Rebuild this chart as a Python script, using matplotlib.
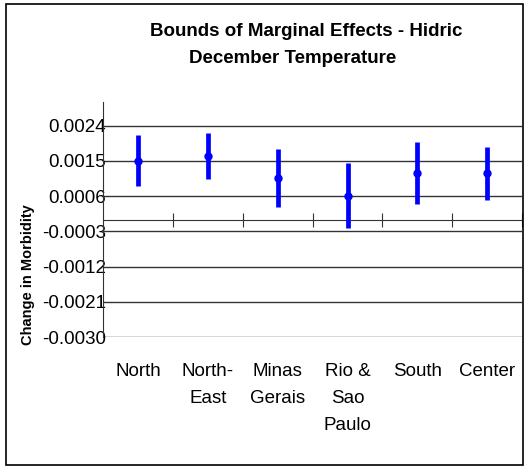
import matplotlib
matplotlib.use("Agg")
import matplotlib.pyplot as plt
from matplotlib import font_manager
from matplotlib.patches import Rectangle

regions = ["North", "North-\nEast", "Minas\nGerais", "Rio &\nSao\nPaulo", "South", "Center"]
effect = [0.00149, 0.00162, 0.00107, 0.00061, 0.00118, 0.00118]
upper = [0.00215, 0.00222, 0.00181, 0.00144, 0.00198, 0.00186]
lower = [0.00085, 0.00103, 0.00033, -0.00021, 0.00039, 0.00049]
yticks = [-0.0030, -0.0021, -0.0012, -0.0003, 0.0006, 0.0015, 0.0024]
ytick_labels = ["-0.0030", "-0.0021", "-0.0012", "-0.0003", "0.0006", "0.0015", "0.0024"]

names = {f.name for f in font_manager.fontManager.ttflist}
narrow = "Liberation Sans Narrow" in names
plt.rcParams['font.family'] = ['Liberation Sans', 'DejaVu Sans']

fig = plt.figure(figsize=(5.27, 4.66), dpi=100)
fig.patches.append(Rectangle((0.0114, 0.002), 0.9805, 0.989, transform=fig.transFigure,
                             fill=False, edgecolor='black', linewidth=1.2))

ax = fig.add_axes([0.196, 0.2768, 0.7945, 0.5042])
x = list(range(len(regions)))

ax.vlines(x, lower, upper, color='#0000ff', linewidth=3.4, zorder=3)
ax.plot(x, effect, 'o', color='#0000ff', markersize=5, zorder=4)

ax.set_xlim(-0.5, 5.5)
ax.set_ylim(-0.003, 0.003)
ax.set_yticks(yticks, ytick_labels)
ax.tick_params(axis='y', length=0, pad=-2, labelsize=13.5)
ax.grid(axis='y', color='#333333', linewidth=1)
ax.set_axisbelow(True)

for s in ['top', 'right']:
    ax.spines[s].set_visible(False)
ax.spines['left'].set_color('#333333')
ax.spines['bottom'].set_position(('data', 0))
ax.spines['bottom'].set_color('#333333')
ax.set_xticks([0.5, 1.5, 2.5, 3.5, 4.5, 5.5], [])
ax.tick_params(axis='x', direction='inout', length=10, color='#333333')

sec = ax.secondary_xaxis(0.0)
sec.set_xticks(x, regions)
sec.tick_params(length=0, pad=19, labelsize=13.5)
for lbl in sec.get_xticklabels():
    lbl.set_linespacing(1.75)
sec.spines['bottom'].set_visible(False)

fig.text(0.581, 0.933, "Bounds of Marginal Effects - Hidric", ha='center', va='center',
         fontsize=13.5, fontweight='bold')
fig.text(0.555, 0.875, "December Temperature", ha='center', va='center',
         fontsize=13.5, fontweight='bold')
if narrow:
    fig.text(0.053, 0.41, "Change in Morbidity", rotation=90, ha='center', va='center',
             fontsize=13, fontweight='bold', family='Liberation Sans Narrow')
else:
    fig.text(0.053, 0.41, "Change in Morbidity", rotation=90, ha='center', va='center',
             fontsize=10.5, fontweight='bold')

fig.savefig("out.png", dpi=100)
